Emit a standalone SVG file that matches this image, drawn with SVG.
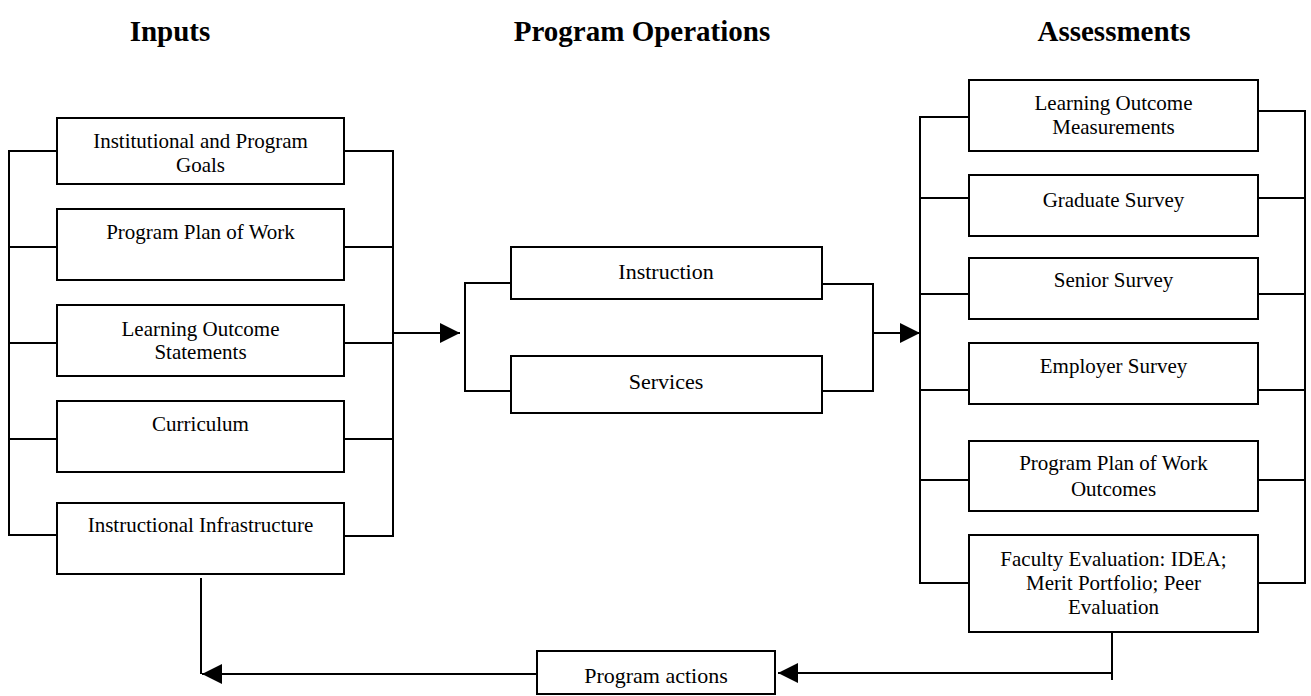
<svg xmlns="http://www.w3.org/2000/svg" width="1311" height="696" viewBox="0 0 1311 696">
<style>
.box{fill:#fff;stroke:#000;stroke-width:2}
.t{font-family:"Liberation Serif","Times New Roman",serif;font-size:21px;fill:#000;text-anchor:middle}
.c{font-family:"Liberation Serif","Times New Roman",serif;font-size:22px;fill:#000;text-anchor:middle}
.h{font-family:"Liberation Serif","Times New Roman",serif;font-size:29px;font-weight:bold;fill:#000;text-anchor:middle}
.ln{fill:none;stroke:#000;stroke-width:2}
</style>
<defs>
<marker id="ah" viewBox="0 0 20 20" refX="20" refY="10" markerWidth="20" markerHeight="20" markerUnits="userSpaceOnUse" orient="auto">
<path d="M0,0 L20,10 L0,20 Z" fill="#000"/>
</marker>
</defs>
<rect width="1311" height="696" fill="#fff"/>
<g id="titles">
<text class="h" x="170" y="41">Inputs</text>
<text class="h" x="642" y="41">Program Operations</text>
<text class="h" x="1114" y="41">Assessments</text>
</g>
<g id="connectors">
<path class="ln" d="M57,151 H9 V535 H57 M9,247 H57 M9,343 H57 M9,439 H57"/>
<path class="ln" d="M344,151 H393 V536 H344 M344,247 H393 M344,343 H393 M344,439 H393"/>
<path class="ln" d="M393,333 H460" marker-end="url(#ah)"/>
<path class="ln" d="M511,283 H465 V391 H511"/>
<path class="ln" d="M822,284 H873 V391 H822"/>
<path class="ln" d="M873,333 H920" marker-end="url(#ah)"/>
<path class="ln" d="M969,117 H920 V583 H969 M920,198 H969 M920,294 H969 M920,390 H969 M920,480 H969"/>
<path class="ln" d="M1258,111 H1305 V583 H1258 M1258,198 H1305 M1258,294 H1305 M1258,390 H1305 M1258,480 H1305"/>
<path class="ln" d="M1112,632 V680"/>
<path class="ln" d="M1112,673 H778" marker-end="url(#ah)"/>
<path class="ln" d="M201,578 V674"/>
<path class="ln" d="M537,674 H202" marker-end="url(#ah)"/>
</g>
<g id="in1"><rect class="box" x="57" y="118" width="287" height="66"/><text class="t" x="200.5" y="148">Institutional and Program</text><text class="t" x="200.5" y="172">Goals</text></g>
<g id="in2"><rect class="box" x="57" y="209" width="287" height="71"/><text class="t" x="200.5" y="239">Program Plan of Work</text></g>
<g id="in3"><rect class="box" x="57" y="305" width="287" height="71"/><text class="t" x="200.5" y="336">Learning Outcome</text><text class="t" x="200.5" y="359">Statements</text></g>
<g id="in4"><rect class="box" x="57" y="401" width="287" height="71"/><text class="t" x="200.5" y="431">Curriculum</text></g>
<g id="in5"><rect class="box" x="57" y="503" width="287" height="71"/><text class="t" x="200.5" y="532">Instructional Infrastructure</text></g>
<g id="op1"><rect class="box" x="511" y="247" width="311" height="52"/><text class="c" x="666" y="279">Instruction</text></g>
<g id="op2"><rect class="box" x="511" y="356" width="311" height="57"/><text class="c" x="666" y="389">Services</text></g>
<g id="as1"><rect class="box" x="969" y="80" width="289" height="71"/><text class="t" x="1113.5" y="110">Learning Outcome</text><text class="t" x="1113.5" y="134">Measurements</text></g>
<g id="as2"><rect class="box" x="969" y="175" width="289" height="61"/><text class="t" x="1113.5" y="207">Graduate Survey</text></g>
<g id="as3"><rect class="box" x="969" y="258" width="289" height="61"/><text class="t" x="1113.5" y="287">Senior Survey</text></g>
<g id="as4"><rect class="box" x="969" y="343" width="289" height="61"/><text class="t" x="1113.5" y="373">Employer Survey</text></g>
<g id="as5"><rect class="box" x="969" y="441" width="289" height="70"/><text class="t" x="1113.5" y="470">Program Plan of Work</text><text class="t" x="1113.5" y="496">Outcomes</text></g>
<g id="as6"><rect class="box" x="969" y="535" width="289" height="97"/><text class="t" x="1113.5" y="566">Faculty Evaluation: IDEA;</text><text class="t" x="1113.5" y="590">Merit Portfolio; Peer</text><text class="t" x="1113.5" y="614">Evaluation</text></g>
<g id="act"><rect class="box" x="537" y="651" width="238" height="43"/><text class="c" x="656" y="683">Program actions</text></g>
</svg>
